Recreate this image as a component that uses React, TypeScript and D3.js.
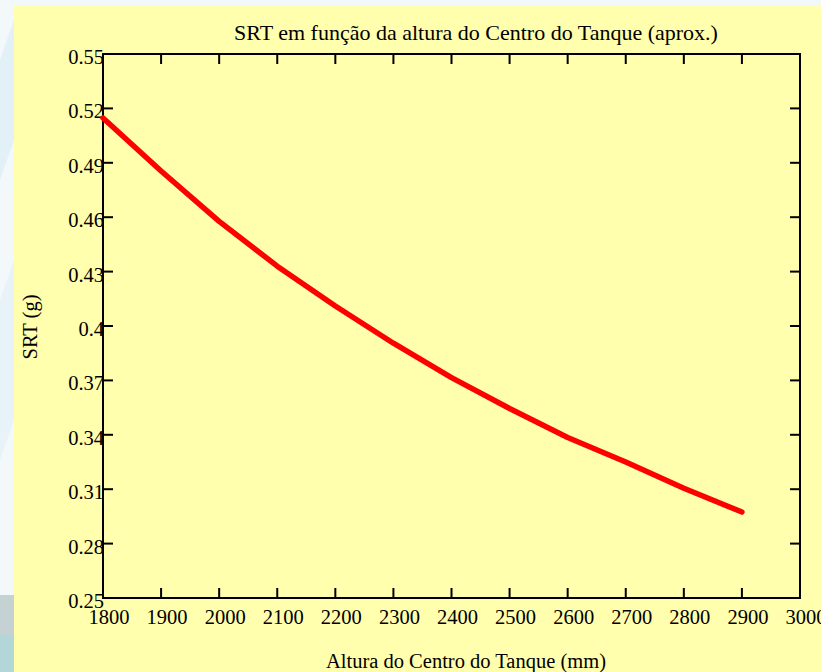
import React from 'react';
import * as d3 from 'd3';

const WIDTH = 821;
const HEIGHT = 672;

// altura do centro do tanque (mm) -> SRT (g)
const alturas = [1800, 1900, 2000, 2100, 2200, 2300, 2400, 2500, 2600, 2700, 2800, 2900];
const srtValues = [0.5147, 0.4855, 0.4577, 0.433, 0.411, 0.3905, 0.3715, 0.3545, 0.3385, 0.325, 0.3105, 0.2974];

const xTicks = [1800, 1900, 2000, 2100, 2200, 2300, 2400, 2500, 2600, 2700, 2800, 2900, 3000];
const yTicks = [0.25, 0.28, 0.31, 0.34, 0.37, 0.4, 0.43, 0.46, 0.49, 0.52, 0.55];
const yTickLabels = ['0.25', '0.28', '0.31', '0.34', '0.37', '0.4', '0.43', '0.46', '0.49', '0.52', '0.55'];

const TITLE = 'SRT em função da altura do Centro do Tanque (aprox.)';
const X_TITLE = 'Altura do Centro do Tanque (mm)';
const Y_TITLE = 'SRT (g)';

const plot = { left: 103, top: 54, right: 800, bottom: 598 };
const FONT = '"Liberation Serif", "Times New Roman", serif';
const TICK = 10;

const App = () => {
    const x = d3.scaleLinear([1800, 3000], [plot.left, plot.right]);
    const y = d3.scaleLinear([0.25, 0.55], [plot.bottom, plot.top]);

    const points: [number, number][] = alturas.map((a, i) => [a, srtValues[i]]);
    const line = d3
        .line<[number, number]>()
        .x(d => x(d[0]))
        .y(d => y(d[1]))
        .curve(d3.curveLinear);

    return (
        <svg
            width={WIDTH}
            height={HEIGHT}
            style={{ position: 'absolute', left: 0, top: 0, display: 'block' }}
            fontFamily={FONT}
        >
            {/* watermark strip behind the chart */}
            <rect x={0} y={0} width={WIDTH} height={HEIGHT} fill='#f3f8fb' />
            <path d='M0,60 L14,20 L14,140 L0,180 Z' fill='#e2f0f7' />
            <path d='M0,300 L14,260 L14,420 L0,460 Z' fill='#e8f3f9' />
            <rect x={0} y={595} width={14} height={77} fill='#c4d2d4' />
            <rect x={0} y={635} width={14} height={37} fill='#a9d8da' opacity={0.6} />

            <rect x={14} y={5} width={WIDTH - 14} height={HEIGHT - 5} fill='#ffffad' />

            <text x={476} y={40} fontSize={22} textAnchor='middle' fill='#000'>
                {TITLE}
            </text>

            {/* frame */}
            <rect
                x={plot.left}
                y={plot.top}
                width={plot.right - plot.left}
                height={plot.bottom - plot.top}
                fill='none'
                stroke='#000'
                strokeWidth={2}
            />

            {xTicks.map(t => (
                <g key={`x-${t}`}>
                    <line x1={x(t)} x2={x(t)} y1={plot.bottom} y2={plot.bottom - TICK} stroke='#000' strokeWidth={2} />
                    <line x1={x(t)} x2={x(t)} y1={plot.top} y2={plot.top + TICK} stroke='#000' strokeWidth={2} />
                    <text x={x(t) + 6} y={plot.bottom + 26} fontSize={20.5} textAnchor='middle' fill='#000'>
                        {t}
                    </text>
                </g>
            ))}

            {yTicks.map((t, i) => (
                <g key={`y-${t}`}>
                    <line x1={plot.left} x2={plot.left + TICK} y1={y(t)} y2={y(t)} stroke='#000' strokeWidth={2} />
                    <line x1={plot.right} x2={plot.right - TICK} y1={y(t)} y2={y(t)} stroke='#000' strokeWidth={2} />
                    <text x={plot.left + 1} y={y(t) + 10} fontSize={20.5} textAnchor='end' fill='#000'>
                        {yTickLabels[i]}
                    </text>
                </g>
            ))}

            <path
                d={line(points) ?? ''}
                fill='none'
                stroke='#ff0000'
                strokeWidth={5.5}
                strokeLinecap='round'
                strokeLinejoin='round'
            />

            <text x={466} y={668} fontSize={20.5} textAnchor='middle' fill='#000'>
                {X_TITLE}
            </text>
            <text
                transform={`translate(37,327) rotate(-90)`}
                fontSize={20.5}
                textAnchor='middle'
                fill='#000'
            >
                {Y_TITLE}
            </text>
        </svg>
    );
};

export default App;
